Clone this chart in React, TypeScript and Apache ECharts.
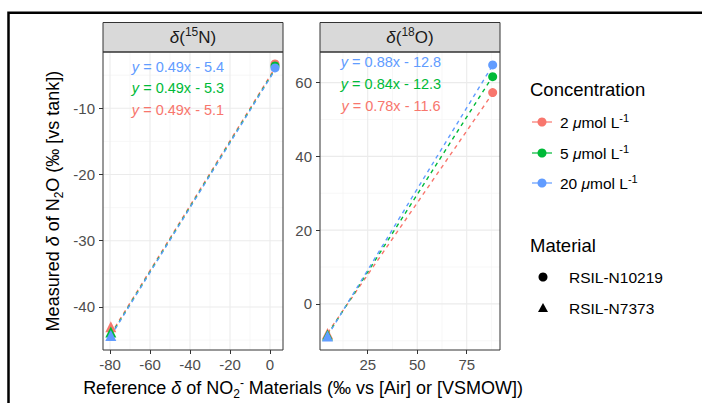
import React, { useEffect, useRef } from 'react';
import * as echarts from 'echarts';

const FONT = '"Liberation Sans", Arial, Helvetica, sans-serif';

// ---------- data ----------
const concentrationLabels = ['2', '5', '20'];
const concentrationColors = ['#F8766D', '#00BA38', '#619CFF'];
const materialLabels = ['RSIL-N10219', 'RSIL-N7373'];
const materialSymbols = ['circle', 'triangle'];

const panelMass = ['15', '18'];
const panelElement = ['N', 'O'];

// δ(15N) panel: reference x for [RSIL-N10219, RSIL-N7373]
const n15RefX = [2.5, -79.6];
const n15MeasN10219 = [-3.3, -3.6, -3.9];
const n15MeasN7373 = [-43.0, -43.8, -44.3];
const n15FitAtN7373 = [-44.1, -44.3, -44.4];
const n15FitAtN10219 = [-3.9, -4.1, -4.2];
const n15Slope = ['0.49', '0.49', '0.49'];
const n15Intercept = ['5.1', '5.3', '5.4'];
const n15XRange = [-83.5, 6.5];
const n15YRange = [-46.5, -1.5];
const n15XTicks = [-80, -60, -40, -20, 0];
const n15XMinor = [-70, -50, -30, -10];
const n15YTicks = [-40, -30, -20, -10];
const n15YMinor = [-45, -35, -25, -15, -5];

// δ(18O) panel
const o18RefX = [88.1, 4.7];
const o18MeasN10219 = [57.3, 61.6, 64.8];
const o18MeasN7373 = [-8.0, -8.4, -8.7];
const o18FitAtN7373 = [-7.9, -8.4, -8.7];
const o18FitAtN10219 = [57.1, 61.7, 64.7];
const o18Slope = ['0.78', '0.84', '0.88'];
const o18Intercept = ['11.6', '12.3', '12.8'];
const o18XRange = [0.9, 91.8];
const o18YRange = [-12.5, 68.3];
const o18XTicks = [25, 50, 75];
const o18XMinor = [12.5, 37.5, 62.5, 87.5];
const o18YTicks = [0, 20, 40, 60];
const o18YMinor = [-10, 10, 30, 50];

// ---------- layout ----------
const GRIDS = [
  { left: 103, top: 52, width: 180, height: 298 },
  { left: 320, top: 52, width: 180, height: 298 },
];
const EQ_POS = [
  { x: 178, y: [110, 88, 67] },
  { x: 391, y: [106, 84, 62] },
];

function rich(size: number, color: string) {
  const lh = Math.round(size * 1.3);
  const small = Math.round(size * 0.68);
  return {
    n: { fontSize: size, fontFamily: FONT, lineHeight: lh, fill: color },
    i: { fontSize: size, fontFamily: FONT, lineHeight: lh, fill: color, fontStyle: 'italic' },
    sub: { fontSize: small, fontFamily: FONT, fill: color, verticalAlign: 'bottom' },
    sup: { fontSize: small, fontFamily: FONT, fill: color, verticalAlign: 'top' },
  };
}

function buildOption() {
  const panels = [
    {
      refX: n15RefX, meas: [n15MeasN10219, n15MeasN7373], fitLow: n15FitAtN7373, fitHigh: n15FitAtN10219,
      slope: n15Slope, intercept: n15Intercept, xRange: n15XRange, yRange: n15YRange,
      xTicks: n15XTicks, xMinor: n15XMinor, yTicks: n15YTicks, yMinor: n15YMinor,
    },
    {
      refX: o18RefX, meas: [o18MeasN10219, o18MeasN7373], fitLow: o18FitAtN7373, fitHigh: o18FitAtN10219,
      slope: o18Slope, intercept: o18Intercept, xRange: o18XRange, yRange: o18YRange,
      xTicks: o18XTicks, xMinor: o18XMinor, yTicks: o18YTicks, yMinor: o18YMinor,
    },
  ];

  const grid = GRIDS.map((g) => ({ ...g, show: false }));
  const xAxis = panels.map((p, i) => ({
    gridIndex: i, type: 'value', min: p.xRange[0], max: p.xRange[1],
    axisLine: { show: false, onZero: false },
    axisTick: { show: true, customValues: p.xTicks, length: 4, lineStyle: { color: '#333333', width: 1 } },
    axisLabel: { customValues: p.xTicks, color: '#4D4D4D', fontSize: 15, fontFamily: FONT, margin: 7 },
    splitLine: { show: false },
  }));
  const yAxis = panels.map((p, i) => ({
    gridIndex: i, type: 'value', min: p.yRange[0], max: p.yRange[1],
    axisLine: { show: false, onZero: false },
    axisTick: { show: true, customValues: p.yTicks, length: 4, lineStyle: { color: '#333333', width: 1 } },
    axisLabel: { customValues: p.yTicks, color: '#4D4D4D', fontSize: 15, fontFamily: FONT, margin: 8 },
    splitLine: { show: false },
  }));

  const series: any[] = [];
  panels.forEach((p, pi) => {
    const xMid = (p.xRange[0] + p.xRange[1]) / 2;
    const yMid = (p.yRange[0] + p.yRange[1]) / 2;
    const gridData = [
      ...p.xMinor.map((v) => [v, yMid, 0, 0]),
      ...p.yMinor.map((v) => [xMid, v, 1, 0]),
      ...p.xTicks.map((v) => [v, yMid, 0, 1]),
      ...p.yTicks.map((v) => [xMid, v, 1, 1]),
    ];
    series.push({
      type: 'custom', xAxisIndex: pi, yAxisIndex: pi, z: 1, silent: true,
      data: gridData,
      renderItem: (params: any, api: any) => {
        const cs = params.coordSys;
        const pt = api.coord([api.value(0), api.value(1)]);
        const dir = api.value(2);
        const major = api.value(3);
        const shape = dir === 0
          ? { x1: pt[0], y1: cs.y, x2: pt[0], y2: cs.y + cs.height }
          : { x1: cs.x, y1: pt[1], x2: cs.x + cs.width, y2: pt[1] };
        return {
          type: 'line', shape,
          style: { stroke: major ? '#EBEBEB' : '#F4F4F4', lineWidth: major ? 1.1 : 0.7 },
        };
      },
    });
    concentrationLabels.forEach((_, ci) => {
      series.push({
        type: 'line', xAxisIndex: pi, yAxisIndex: pi, z: 3, silent: true,
        symbol: 'none',
        data: [[p.refX[1], p.fitLow[ci]], [p.refX[0], p.fitHigh[ci]]],
        lineStyle: { color: concentrationColors[ci], width: 1.4, type: [4, 4] },
      });
    });
    concentrationLabels.forEach((_, ci) => {
      series.push({
        type: 'scatter', xAxisIndex: pi, yAxisIndex: pi, z: 4, silent: true,
        itemStyle: { color: concentrationColors[ci], opacity: 1 },
        data: materialLabels.map((_, mi) => ({
          value: [p.refX[mi], p.meas[mi][ci]],
          symbol: materialSymbols[mi],
          symbolSize: mi === 0 ? 9 : 11,
        })),
      });
    });
  });

  const graphic: any[] = [];
  // outer frame (top + left visible)
  graphic.push({
    type: 'rect', z: 100, shape: { x: 8.5, y: 12.7, width: 800, height: 500 },
    style: { fill: 'none', stroke: '#000', lineWidth: 2.5 },
  });
  panels.forEach((p, pi) => {
    const g = GRIDS[pi];
    // strip
    graphic.push({
      type: 'rect', z: 100, shape: { x: g.left, y: 22.5, width: g.width, height: g.top - 22.5 },
      style: { fill: '#D9D9D9', stroke: '#333333', lineWidth: 1 },
    });
    graphic.push({
      type: 'text', z: 101, x: g.left + g.width / 2, y: 37,
      style: {
        text: `{i|δ}{n|(}{sup|${panelMass[pi]}}{n|${panelElement[pi]})}`,
        rich: rich(17, '#1A1A1A'), align: 'center', verticalAlign: 'middle',
      },
    });
    // panel border
    graphic.push({
      type: 'rect', z: 100, shape: { x: g.left, y: g.top, width: g.width, height: g.height },
      style: { fill: 'none', stroke: '#333333', lineWidth: 1 },
    });
    // equations
    concentrationLabels.forEach((_, ci) => {
      graphic.push({
        type: 'text', z: 101, x: EQ_POS[pi].x, y: EQ_POS[pi].y[ci],
        style: {
          text: `{i|y}{n| = ${p.slope[ci]}x - ${p.intercept[ci]}}`,
          rich: rich(14.5, concentrationColors[ci]), align: 'center', verticalAlign: 'middle',
        },
      });
    });
  });

  // axis titles
  graphic.push({
    type: 'text', z: 101, x: 303, y: 388,
    style: {
      text: '{n|Reference }{i|δ}{n| of NO}{sub|2}{sup|-}{n| Materials (‰ vs [Air] or [VSMOW])}',
      rich: rich(18, '#000'), align: 'center', verticalAlign: 'middle',
    },
  });
  graphic.push({
    type: 'text', z: 101, x: 53, y: 201, rotation: Math.PI / 2,
    style: {
      text: '{n|Measured }{i|δ}{n| of N}{sub|2}{n|O (‰ [vs tank])}',
      rich: rich(18, '#000'), align: 'center', verticalAlign: 'middle',
    },
  });

  // legend: Concentration
  graphic.push({
    type: 'text', z: 101, x: 530, y: 89,
    style: { text: '{n|Concentration}', rich: rich(18.5, '#000'), align: 'left', verticalAlign: 'middle' },
  });
  const concY = [122, 153, 183];
  concentrationLabels.forEach((lab, ci) => {
    graphic.push({
      type: 'line', z: 101, shape: { x1: 532, y1: concY[ci], x2: 552, y2: concY[ci] },
      style: { stroke: concentrationColors[ci], lineWidth: 1.2 },
    });
    graphic.push({
      type: 'circle', z: 102, shape: { cx: 542, cy: concY[ci], r: 4.5 },
      style: { fill: concentrationColors[ci] },
    });
    graphic.push({
      type: 'text', z: 101, x: 560, y: concY[ci],
      style: {
        text: `{n|${lab} }{i|μ}{n|mol L}{sup|-1}`,
        rich: rich(15.5, '#000'), align: 'left', verticalAlign: 'middle',
      },
    });
  });

  // legend: Material
  graphic.push({
    type: 'text', z: 101, x: 530, y: 245,
    style: { text: '{n|Material}', rich: rich(18.5, '#000'), align: 'left', verticalAlign: 'middle' },
  });
  const matY = [277, 308];
  materialLabels.forEach((lab, mi) => {
    if (materialSymbols[mi] === 'circle') {
      graphic.push({ type: 'circle', z: 101, shape: { cx: 543, cy: matY[mi], r: 4.5 }, style: { fill: '#000' } });
    } else {
      graphic.push({
        type: 'polygon', z: 101,
        shape: { points: [[543, matY[mi] - 5], [548, matY[mi] + 4], [538, matY[mi] + 4]] },
        style: { fill: '#000' },
      });
    }
    graphic.push({
      type: 'text', z: 101, x: 569, y: matY[mi],
      style: { text: `{n|${lab}}`, rich: rich(15.5, '#000'), align: 'left', verticalAlign: 'middle' },
    });
  });

  return {
    animation: false,
    backgroundColor: '#ffffff',
    textStyle: { fontFamily: FONT },
    grid, xAxis, yAxis, series, graphic,
  };
}

export default function App() {
  const ref = useRef<HTMLDivElement>(null);
  useEffect(() => {
    const el = ref.current;
    if (!el) return;
    const chart = echarts.init(el, null, { renderer: 'svg' });
    chart.setOption(buildOption() as any);
    return () => chart.dispose();
  }, []);
  return (
    <div
      ref={ref}
      style={{ position: 'fixed', left: 0, top: 0, width: 702, height: 403, background: '#fff' }}
    />
  );
}
